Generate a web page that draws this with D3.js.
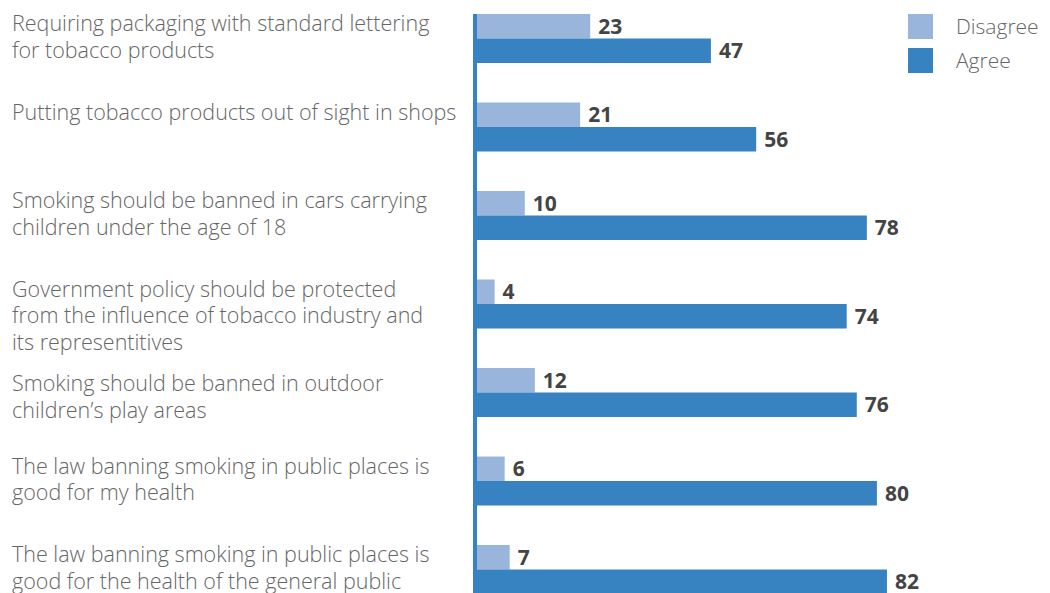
<!DOCTYPE html>
<html>
<head>
<meta charset="utf-8">
<script src="https://cdn.jsdelivr.net/npm/d3@7"></script>
<style>
  body { margin: 0; background: #fff; }
  text { font-family: "Open Sans", sans-serif; }
</style>
</head>
<body>
<div id="chart"></div>
<script>
// statements (label lines), disagree and agree percentages
let statements = [
  ["Requiring packaging with standard lettering", "for tobacco products"],
  ["Putting tobacco products out of sight in shops"],
  ["Smoking should be banned in cars carrying", "children under the age of 18"],
  ["Government policy should be protected", "from the influence of tobacco industry and", "its representitives"],
  ["Smoking should be banned in outdoor", "children\u2019s play areas"],
  ["The law banning smoking in public places is", "good for my health"],
  ["The law banning smoking in public places is", "good for the health of the general public"]
];
let disagree = [23, 21, 10, 4, 12, 6, 7];
let agree = [47, 56, 78, 74, 76, 80, 82];
let seriesNames = ["Disagree", "Agree"];
let seriesColors = ["#9ab5dc", "#3782c1"];

let width = 1050;
let height = 593;

let svg = d3.select("#chart")
  .append("svg")
  .attr("width", width).attr("height", height);

// horizontal value scale
let xScale = d3.scaleLinear()
  .domain([0, 100])
  .range([474.5, 977.5]);

// one band per statement, 88.5px apart, 49px tall
let step = 88.5;
let band = 49;
let yScale = d3.scaleBand()
  .domain(d3.range(statements.length))
  .range([14, 14 + step * (statements.length - 1) + band])
  .paddingInner((step - band) / step)
  .paddingOuter(0);

let barH = yScale.bandwidth() / 2;

let rows = statements.map(function(s, i) {
  return { lines: s, values: [disagree[i], agree[i]], i: i };
});

// bars
let groups = svg.append("g")
  .selectAll("g")
  .data(rows)
  .enter()
  .append("g")
  .attr("transform", function(d) { return "translate(0," + yScale(d.i) + ")"; });

groups.selectAll("rect")
  .data(function(d) { return d.values; })
  .enter()
  .append("rect")
  .attr("x", xScale(0))
  .attr("y", function(d, j) { return j * barH; })
  .attr("width", function(d) { return xScale(d) - xScale(0); })
  .attr("height", barH)
  .attr("fill", function(d, j) { return seriesColors[j]; });

// value labels
groups.selectAll("text.value")
  .data(function(d) { return d.values; })
  .enter()
  .append("text")
  .attr("class", "value")
  .attr("x", function(d) { return xScale(d) + 8; })
  .attr("y", function(d, j) { return j * barH + barH / 2; })
  .attr("dy", "0.36em")
  .attr("font-size", 21)
  .attr("font-weight", 700)
  .attr("fill", "#444")
  .text(function(d) { return d; });

// vertical axis line
svg.append("line")
  .attr("x1", 475).attr("x2", 475)
  .attr("y1", 14).attr("y2", height)
  .attr("stroke", "#3782c1")
  .attr("stroke-width", 4);

// statement labels on the left
let labels = svg.append("g")
  .selectAll("text")
  .data(rows)
  .enter()
  .append("text")
  .attr("x", 12)
  .attr("y", function(d) { return yScale(d.i) + 17 + (d.i === 4 ? 6 : 0); })
  .attr("font-size", 21.5)
  .attr("font-weight", 300)
  .attr("fill", "#666");

labels.selectAll("tspan")
  .data(function(d) { return d.lines; })
  .enter()
  .append("tspan")
  .attr("x", 12)
  .attr("dy", function(d, k) { return k === 0 ? 0 : 26.7; })
  .text(function(d) { return d; });

// legend
let legend = svg.append("g")
  .selectAll("g")
  .data(seriesNames)
  .enter()
  .append("g")
  .attr("transform", function(d, i) { return "translate(908," + (14 + i * 34) + ")"; });

legend.append("rect")
  .attr("width", 25).attr("height", 25)
  .attr("fill", function(d, i) { return seriesColors[i]; });

legend.append("text")
  .attr("x", 48)
  .attr("y", 12.5)
  .attr("dy", "0.36em")
  .attr("font-size", 21)
  .attr("font-weight", 300)
  .attr("fill", "#666")
  .text(function(d) { return d; });
</script>
</body>
</html>
